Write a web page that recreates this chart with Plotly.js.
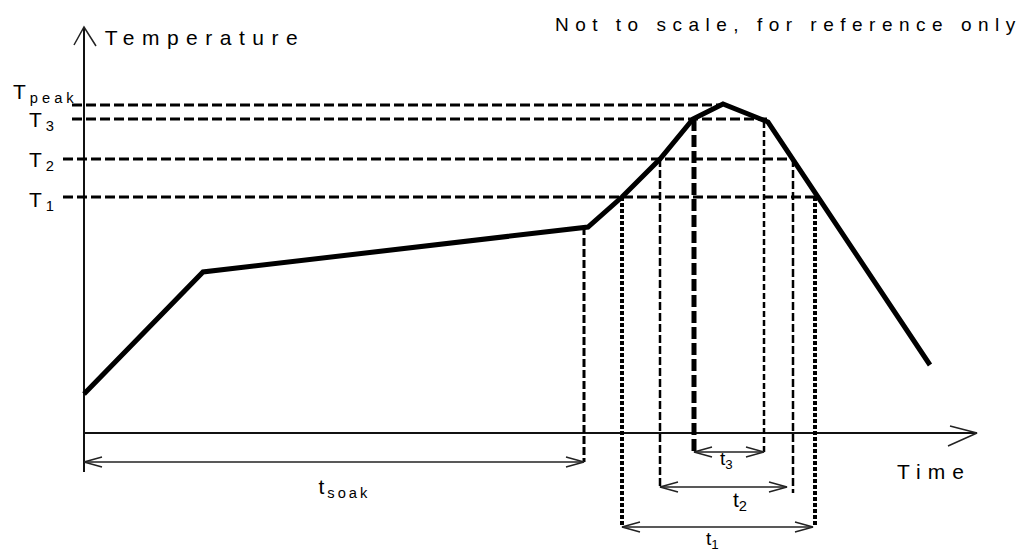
<!DOCTYPE html>
<html>
<head>
<meta charset="utf-8">
<script src="https://cdn.plot.ly/plotly-3.0.1.min.js"></script>
<style>
  html, body { margin: 0; padding: 0; background: #fff; }
  #chart { width: 1033px; height: 553px; }
  g.annotation[data-index="0"] text { letter-spacing: 7.5px; }
  g.annotation[data-index="1"] text { letter-spacing: 6.5px; }
  g.annotation[data-index="2"] text { letter-spacing: 7px; }
  g.annotation[data-index="3"] text,
  g.annotation[data-index="4"] text,
  g.annotation[data-index="5"] text,
  g.annotation[data-index="6"] text { letter-spacing: 4px; }
  g.annotation[data-index="7"] text { letter-spacing: 3px; }
</style>
</head>
<body>
<div id="chart"></div>
<script>
// ---- Schematic reflow profile (arbitrary units: time → right, temperature → up) ----
const profileTime = [0, 119, 504, 538, 576, 609, 639, 684, 846];
const profileTemp = [39, 161, 206, 236, 274, 314, 329, 311, 68];

// Temperature levels (dashed horizontal reference lines)
const levelLabels = ['T<sub>peak</sub>', 'T<sub>3</sub>', 'T<sub>2</sub>', 'T<sub>1</sub>'];
const levelTemp = [328, 314, 274, 236];
const levelFrom = [-12, -12, -21, -21];
const levelTo = [636, 683, 706, 733];

// Time intervals (dimension arrows under the time axis)
const intervalLabels = ['t<sub>soak</sub>', 't<sub>1</sub>', 't<sub>2</sub>', 't<sub>3</sub>'];
const intervalStart = [0, 538, 576, 610];
const intervalEnd = [500, 731, 709, 680];
const intervalStartTop = [null, 236, 274, 314];
const intervalEndTop = [206, 236, 274, 311];
const intervalArrowTemp = [-29, -94, -54, -19];

// Axes extents
const axisTimeEnd = 893;
const axisTempTop = 406;
const axisTempBottom = -39;

const traces = [];
function line(x, y, width, color, dash) {
  traces.push({
    type: 'scatter', mode: 'lines', x: x, y: y, hoverinfo: 'skip',
    line: { color: color, width: width, dash: dash || 'solid' }
  });
}

// axes with arrowheads
line([0, 0], [axisTempBottom, axisTempTop], 2, '#111');
line([-10, 0, 12], [388, axisTempTop, 387], 1.5, '#222');
line([0, axisTimeEnd], [0, 0], 1.8, '#111');
line([866, axisTimeEnd, 864], [7, 0, -13], 1.5, '#222');

// level dashed lines
for (let i = 0; i < levelTemp.length; i++) {
  line([levelFrom[i], levelTo[i]], [levelTemp[i], levelTemp[i]], 3.2, '#000', '10px,4px');
}

// interval verticals + arrows
const vStyle = [
  { w: 3, d: '8px,3px' },
  { w: 4, d: '4px,2px' },
  { w: 2.5, d: '8px,3px' },
  { w: 2.5, d: '6px,3px' }
];
for (let i = 0; i < intervalStart.length; i++) {
  const yA = intervalArrowTemp[i];
  if (intervalStartTop[i] !== null) {
    const ls = (i === 3) ? { w: 5, d: '12px,4px' } : vStyle[i];
    line([intervalStart[i], intervalStart[i]], [intervalStartTop[i], yA], ls.w, '#000', ls.d);
  }
  line([intervalEnd[i], intervalEnd[i]], [intervalEndTop[i], yA - (i === 2 ? 6 : 0)], vStyle[i].w, '#000', vStyle[i].d);
  const a = intervalStart[i], b = intervalEnd[i] - (i === 2 ? 6 : (i === 1 ? 2 : 0));
  line([a, b], [yA, yA], 1.6, '#222');
  line([a + 18, a, a + 18], [yA + 5, yA, yA - 5], 1.5, '#222');
  line([b - 18, b, b - 18], [yA + 5, yA, yA - 5], 1.5, '#222');
}

// profile curve
line(profileTime, profileTemp, 5, '#000');

const fam = '"Liberation Sans", Arial, sans-serif';
function ann(text, x, y, size, xanchor) {
  return {
    text: text, x: x, y: y, xref: 'x', yref: 'y', showarrow: false,
    xanchor: xanchor || 'center', yanchor: 'middle',
    font: { family: fam, size: size, color: '#000' }
  };
}
const annotations = [
  ann('Temperature', 121, 396, 21),
  ann('Not to scale, for reference only', 704, 409, 19),
  ann('Time', 850, -38, 21),
  ann(levelLabels[0], -39, 340, 21),
  ann(levelLabels[1], -41, 312, 21),
  ann(levelLabels[2], -41, 272, 21),
  ann(levelLabels[3], -41, 232, 21),
  ann(intervalLabels[0], 261, -55, 21),
  ann(intervalLabels[1], 628, -107, 19),
  ann(intervalLabels[2], 656, -68, 21),
  ann(intervalLabels[3], 642, -27, 19)
];

const layout = {
  width: 1033, height: 553,
  margin: { l: 0, r: 0, t: 0, b: 0 },
  paper_bgcolor: '#fff', plot_bgcolor: '#fff',
  showlegend: false,
  xaxis: { range: [-84, 949], visible: false, fixedrange: true },
  yaxis: { range: [-120, 433], visible: false, fixedrange: true },
  annotations: annotations
};
Plotly.newPlot('chart', traces, layout, { staticPlot: true });
</script>
</body>
</html>
